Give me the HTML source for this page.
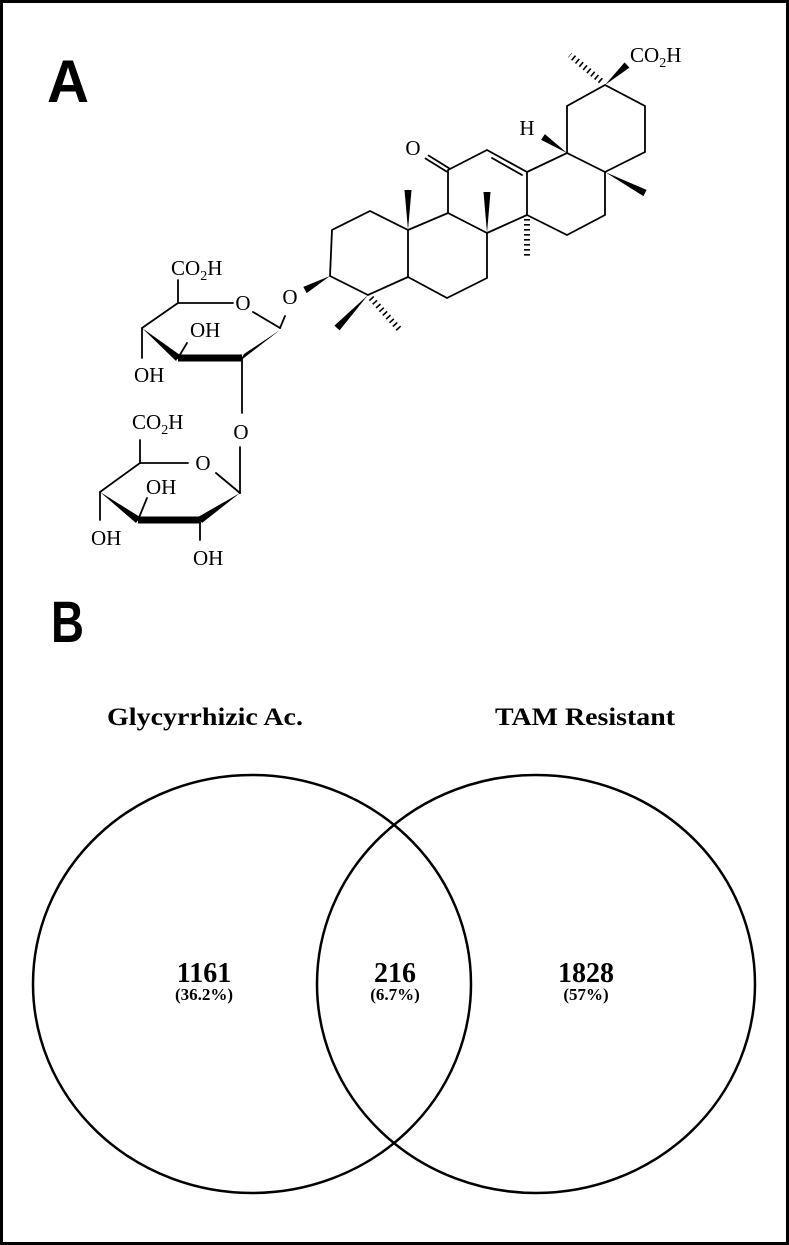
<!DOCTYPE html>
<html><head><meta charset="utf-8"><style>
html,body{margin:0;padding:0;background:#fff;}
svg{display:block;}
.s{font-family:"Liberation Serif",serif;fill:#000;}
</style></head><body>
<svg width="789" height="1245" viewBox="0 0 789 1245" xmlns="http://www.w3.org/2000/svg">
<rect x="1.5" y="1.5" width="786" height="1242" fill="#fff" stroke="#000" stroke-width="3"/>
<text x="47" y="102" font-family="Liberation Sans,sans-serif" font-weight="bold" font-size="60" textLength="42" lengthAdjust="spacingAndGlyphs">A</text>
<text x="51" y="642" font-family="Liberation Sans,sans-serif" font-weight="bold" font-size="58" textLength="33" lengthAdjust="spacingAndGlyphs">B</text>

<g stroke="#000" stroke-width="1.8" fill="none" stroke-linecap="round">
<!-- ring A -->
<polyline points="330,276 332,230 370,211 408,230 408,277 368,295 330,276"/>
<!-- ring B -->
<polyline points="408,230 448,213 487,233 487,278 447,298 408,277"/>
<!-- ring C -->
<polyline points="448,213 448,170 487,150 527,172 527,215 487,233"/>
<line x1="492" y1="158" x2="522" y2="175"/>
<!-- ring D -->
<polyline points="527,172 567,153 605,172 605,215 567,235 527,215"/>
<!-- ring E -->
<polyline points="567,153 567,106 605,85 645,106 645,152 605,172"/>
<!-- ketone -->
<line x1="449.5" y1="168.5" x2="428.5" y2="155.5"/>
<line x1="446.5" y1="171.5" x2="425.5" y2="158.5"/>
<!-- upper sugar -->
<line x1="178" y1="303" x2="233" y2="303"/>
<line x1="253" y1="312" x2="280" y2="328"/>
<line x1="280" y1="328" x2="285" y2="316"/>
<line x1="142" y1="328" x2="178" y2="303"/>
<line x1="178" y1="303" x2="178" y2="280"/>
<line x1="142" y1="328" x2="142" y2="358"/>
<line x1="178" y1="358" x2="187" y2="343"/>
<line x1="242" y1="358" x2="242" y2="413"/>
<!-- lower sugar -->
<line x1="240" y1="447" x2="240" y2="493"/>
<line x1="240" y1="493" x2="216" y2="473"/>
<line x1="140" y1="463" x2="188" y2="463"/>
<line x1="140" y1="463" x2="140" y2="440"/>
<line x1="100" y1="492" x2="140" y2="463"/>
<line x1="100" y1="492" x2="100" y2="520"/>
<line x1="138" y1="520" x2="147" y2="498"/>
<line x1="200" y1="520" x2="200" y2="540"/>
</g>
<!-- thick bonds -->
<g stroke="#000" stroke-width="7">
<line x1="178" y1="358" x2="242" y2="358"/>
<line x1="138" y1="520" x2="200" y2="520"/>
</g>
<!-- wedges -->
<g fill="#000">
<polygon points="330,276 306.7,293.1 303.3,286.9"/>
<polygon points="368,295 339.6,330.4 334.4,325.6"/>
<polygon points="408,230 411.5,190 404.5,190"/>
<polygon points="487,233 490.5,192 483.5,192"/>
<polygon points="605,172 643.4,196.1 646.6,189.9"/>
<polygon points="567,153 544.9,134.1 541.1,139.9"/>
<polygon points="605,85 629.4,67.6 624.6,62.4"/>
<polygon points="280,330 244,354 240,361"/>
<polygon points="142,328 180,355 176,361"/>
<polygon points="100,492 140,517 136,523"/>
<polygon points="240,493 198,517 202,523"/>
</g>
<!-- hashes -->
<g stroke="#000" stroke-width="6" stroke-dasharray="1.6 3.4">
<line x1="371" y1="298" x2="400" y2="330"/>
<line x1="527" y1="219" x2="527" y2="257"/>
<line x1="601" y1="81" x2="570" y2="55"/>
</g>
<!-- atom labels -->
<g class="s" font-size="21">
<text x="413" y="155" text-anchor="middle">O</text>
<text x="527" y="135" text-anchor="middle">H</text>
<text x="630" y="62">CO<tspan font-size="14" dy="5">2</tspan><tspan dy="-5">H</tspan></text>
<text x="290" y="304" text-anchor="middle">O</text>
<text x="243" y="310" text-anchor="middle">O</text>
<text x="171" y="275">CO<tspan font-size="14" dy="5">2</tspan><tspan dy="-5">H</tspan></text>
<text x="134" y="382">OH</text>
<text x="190" y="337">OH</text>
<text x="241" y="439" text-anchor="middle">O</text>
<text x="132" y="429">CO<tspan font-size="14" dy="5">2</tspan><tspan dy="-5">H</tspan></text>
<text x="203" y="470" text-anchor="middle">O</text>
<text x="146" y="494">OH</text>
<text x="91" y="545">OH</text>
<text x="193" y="565">OH</text>
</g>

<!-- Venn -->
<g fill="none" stroke="#000" stroke-width="2.5">
<ellipse cx="252" cy="984" rx="219" ry="209"/>
<ellipse cx="536" cy="984" rx="219" ry="209"/>
</g>
<g class="s" font-weight="bold" text-anchor="middle">
<text x="205" y="725" font-size="25" textLength="196" lengthAdjust="spacingAndGlyphs">Glycyrrhizic Ac.</text>
<text x="585" y="725" font-size="25" textLength="180" lengthAdjust="spacingAndGlyphs">TAM Resistant</text>
<text x="204" y="982" font-size="28">1161</text>
<text x="395" y="982" font-size="28">216</text>
<text x="586" y="982" font-size="28">1828</text>
<text x="204" y="1000" font-size="17">(36.2%)</text>
<text x="395" y="1000" font-size="17">(6.7%)</text>
<text x="586" y="1000" font-size="17">(57%)</text>
</g>
</svg>
</body></html>
